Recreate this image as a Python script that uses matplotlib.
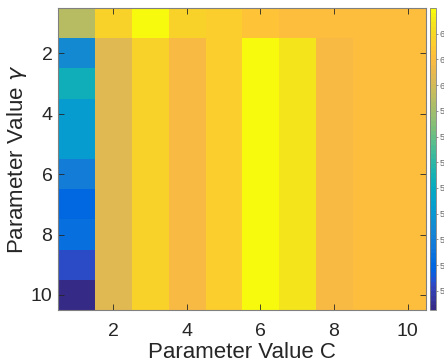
import numpy as np
import matplotlib
matplotlib.use("Agg")
import matplotlib.pyplot as plt
from matplotlib.colors import ListedColormap

# grid values (rows = gamma 1..10, cols = C 1..10)
C_values = [1, 2, 3, 4, 5, 6, 7, 8, 9, 10]
gamma_values = [1, 2, 3, 4, 5, 6, 7, 8, 9, 10]
accuracy = np.array([
    [59.4, 61.76, 63.0, 61.87, 61.65, 61.33, 61.11, 61.11, 61.11, 61.11],
    [54.54, 60.25, 61.76, 60.9, 61.65, 62.84, 62.41, 60.9, 61.11, 61.11],
    [56.37, 60.25, 61.76, 60.9, 61.65, 62.84, 62.41, 60.9, 61.11, 61.11],
    [55.18, 60.25, 61.76, 60.9, 61.65, 62.84, 62.41, 60.9, 61.11, 61.11],
    [55.18, 60.25, 61.76, 60.9, 61.65, 62.84, 62.41, 60.9, 61.11, 61.11],
    [53.89, 60.25, 61.76, 60.9, 61.65, 62.84, 62.41, 60.9, 61.11, 61.11],
    [52.92, 60.25, 61.76, 60.9, 61.65, 62.84, 62.41, 60.9, 61.11, 61.11],
    [53.35, 60.25, 61.76, 60.9, 61.65, 62.84, 62.41, 60.9, 61.11, 61.11],
    [52.27, 60.25, 61.76, 60.9, 61.65, 62.84, 62.41, 60.9, 61.11, 61.11],
    [51.25, 60.25, 61.76, 60.9, 61.65, 62.84, 62.41, 60.9, 61.11, 61.11],
])
x_ticks = [2, 4, 6, 8, 10]
y_ticks = [2, 4, 6, 8, 10]
cbar_ticks = [52, 53, 54, 55, 56, 57, 58, 59, 60, 61, 62]

# MATLAB parula (64 entries)
parula = ListedColormap([
    [0.2081, 0.1663, 0.5292], [0.2116, 0.1898, 0.5777], [0.2123, 0.2138, 0.6270],
    [0.2081, 0.2386, 0.6771], [0.1959, 0.2645, 0.7279], [0.1707, 0.2919, 0.7792],
    [0.1253, 0.3242, 0.8303], [0.0591, 0.3598, 0.8683], [0.0117, 0.3875, 0.8820],
    [0.0060, 0.4086, 0.8828], [0.0165, 0.4266, 0.8786], [0.0329, 0.4430, 0.8720],
    [0.0498, 0.4586, 0.8641], [0.0629, 0.4737, 0.8554], [0.0723, 0.4887, 0.8467],
    [0.0779, 0.5040, 0.8384], [0.0793, 0.5200, 0.8312], [0.0749, 0.5375, 0.8263],
    [0.0641, 0.5570, 0.8240], [0.0488, 0.5772, 0.8228], [0.0343, 0.5966, 0.8199],
    [0.0265, 0.6137, 0.8135], [0.0239, 0.6287, 0.8038], [0.0231, 0.6418, 0.7913],
    [0.0228, 0.6535, 0.7768], [0.0267, 0.6642, 0.7607], [0.0384, 0.6743, 0.7436],
    [0.0590, 0.6838, 0.7254], [0.0843, 0.6928, 0.7062], [0.1133, 0.7015, 0.6859],
    [0.1453, 0.7098, 0.6646], [0.1801, 0.7177, 0.6424], [0.2178, 0.7250, 0.6193],
    [0.2586, 0.7317, 0.5954], [0.3022, 0.7376, 0.5712], [0.3482, 0.7424, 0.5473],
    [0.3953, 0.7459, 0.5244], [0.4420, 0.7481, 0.5033], [0.4871, 0.7491, 0.4840],
    [0.5300, 0.7491, 0.4661], [0.5709, 0.7485, 0.4494], [0.6099, 0.7473, 0.4337],
    [0.6473, 0.7456, 0.4188], [0.6834, 0.7435, 0.4044], [0.7184, 0.7411, 0.3905],
    [0.7525, 0.7384, 0.3768], [0.7858, 0.7356, 0.3633], [0.8185, 0.7327, 0.3498],
    [0.8507, 0.7299, 0.3360], [0.8824, 0.7274, 0.3217], [0.9139, 0.7258, 0.3063],
    [0.9450, 0.7261, 0.2886], [0.9739, 0.7314, 0.2666], [0.9938, 0.7455, 0.2403],
    [0.9990, 0.7653, 0.2164], [0.9955, 0.7861, 0.1967], [0.9880, 0.8066, 0.1794],
    [0.9789, 0.8271, 0.1633], [0.9697, 0.8481, 0.1475], [0.9626, 0.8705, 0.1309],
    [0.9589, 0.8949, 0.1132], [0.9598, 0.9218, 0.0948], [0.9661, 0.9514, 0.0755],
    [0.9763, 0.9831, 0.0538],
], name="parula")

plt.rcParams['font.family'] = ['Liberation Sans', 'DejaVu Sans']

W, H = 444, 363
fig = plt.figure(figsize=(W / 100, H / 100), dpi=100)
# axes box: x 58..426, y 8..310 (pixels)
ax = fig.add_axes([58 / W, 1 - 310 / H, 368 / W, 302 / H])

im = ax.imshow(accuracy, cmap=parula, aspect='auto', interpolation='nearest',
               extent=(C_values[0] - 0.5, C_values[-1] + 0.5,
                       gamma_values[-1] + 0.5, gamma_values[0] - 0.5),
               vmin=accuracy.min(), vmax=accuracy.max())

ax.set_xticks(x_ticks)
ax.set_yticks(y_ticks)
ax.tick_params(direction='in', top=True, right=True, labelsize=14,
               colors='#262626', length=4, width=0.6)
ax.tick_params(axis='x', pad=9)
ax.tick_params(axis='y', pad=4)
for s in ax.spines.values():
    s.set_color('#808080')
    s.set_linewidth(0.8)
ax.set_xlabel("Parameter Value C", fontsize=16, color='#262626', labelpad=1.5)
ax.set_ylabel(r"Parameter Value $\gamma$", fontsize=16, color='#262626', labelpad=1)

cax = fig.add_axes([430 / W, 1 - 310 / H, 6 / W, 302 / H])
cb = fig.colorbar(im, cax=cax, ticks=cbar_ticks)
cb.outline.set_edgecolor('#808080')
cb.outline.set_linewidth(0.6)
cax.tick_params(direction='out', labelsize=6.5, colors='#666666', length=1.5, width=0.5, pad=1)

fig.savefig("out.png", dpi=100)
